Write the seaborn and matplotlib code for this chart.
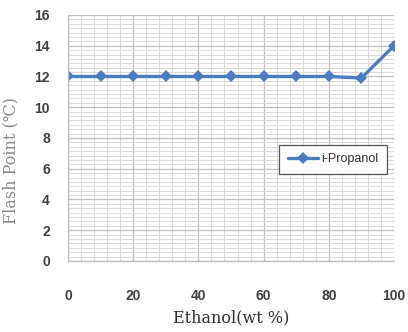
import matplotlib
matplotlib.use("Agg")
import matplotlib.pyplot as plt
from matplotlib.ticker import MultipleLocator
import seaborn as sns
import pandas as pd

# Flash point of i-Propanol blends vs. ethanol content
ethanol_wt = [0, 10, 20, 30, 40, 50, 60, 70, 80, 90, 100]
flash_point = [12, 12, 12, 12, 12, 12, 12, 12, 12, 11.9, 14]
series_name = "i-Propanol"
x_ticks = [0, 20, 40, 60, 80, 100]
y_ticks = [0, 2, 4, 6, 8, 10, 12, 14, 16]

df = pd.DataFrame({"x": ethanol_wt, "y": flash_point, "s": series_name})

sns.set_style("white")
fig = plt.figure(figsize=(4.08, 3.32), dpi=100)
ax = fig.add_axes([0.1667, 0.2139, 0.799, 0.741])

line_color = "#4A7CC2"
sns.lineplot(data=df, x="x", y="y", hue="s", palette=[line_color],
             marker="D", markersize=6.5, markeredgewidth=0, linewidth=2.4,
             ax=ax, legend=True)

ax.set_xlim(0, 100)
ax.set_ylim(0, 16)
ax.set_xticks(x_ticks)
ax.set_yticks(y_ticks)
ax.xaxis.set_minor_locator(MultipleLocator(4))
ax.yaxis.set_minor_locator(MultipleLocator(2 / 7))

ax.grid(which="major", color="#c0c0c0", linewidth=0.9)
ax.grid(which="minor", color="#dadada", linewidth=0.7)
ax.set_axisbelow(True)

for side in ("top", "right"):
    ax.spines[side].set_visible(False)
for side in ("left", "bottom"):
    ax.spines[side].set_color("#bdbdbd")
    ax.spines[side].set_linewidth(0.9)

ax.tick_params(axis="both", which="major", colors="#bdbdbd", length=4,
               width=0.9, direction="out", labelcolor="#404040")
ax.tick_params(axis="both", which="minor", length=0)
ax.tick_params(axis="x", pad=16)
ax.tick_params(axis="y", pad=9)
for lab in ax.get_xticklabels() + ax.get_yticklabels():
    lab.set_fontfamily("Liberation Sans")
    lab.set_fontweight("bold")
    lab.set_fontsize(10)

ax.set_xlabel("Ethanol(wt %)", family=["DejaVu Serif", "DejaVu Sans"],
              fontsize=11.5, color="#303030", labelpad=5)
ax.set_ylabel("Flash Point (℃)", family=["DejaVu Serif", "DejaVu Sans"],
              fontsize=11.5, color="#8a8a8a")
ax.yaxis.set_label_coords(-0.15, 0.41)

leg = ax.legend(loc="center", bbox_to_anchor=(0.813, 0.413), frameon=True,
                fancybox=False, edgecolor="#555555", framealpha=1,
                prop={"family": "Liberation Sans", "size": 9},
                handlelength=2.4, borderpad=0.7, handletextpad=0.2)
leg.get_frame().set_linewidth(0.9)
for t in leg.get_texts():
    t.set_color("#303030")

fig.savefig("out.png", dpi=100, facecolor="white")
